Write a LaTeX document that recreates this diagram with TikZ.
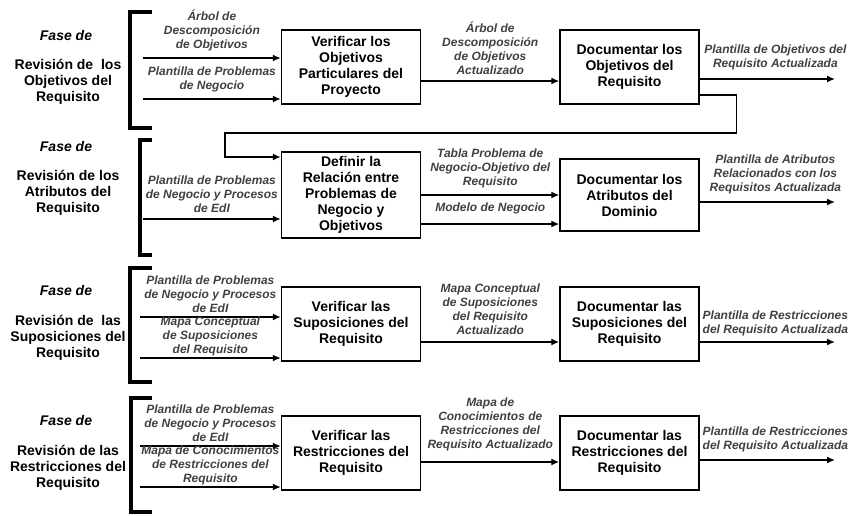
\documentclass[tikz,border=0pt]{standalone}
\usepackage{fontspec}
\setmainfont{Liberation Sans}
\usetikzlibrary{arrows.meta, positioning}
\definecolor{labelgray}{HTML}{404040}

\begin{document}
\begin{tikzpicture}[
  x=1pt, y=-1pt,
  box/.style={draw, line width=1.5pt, align=center, minimum width=139pt, minimum height=74pt, font=\fontsize{14}{16}\selectfont\bfseries},
  fase/.style={align=center, font=\fontsize{14}{16}\selectfont\bfseries\itshape},
  revision/.style={align=center, font=\fontsize{14}{16}\selectfont\bfseries},
  lbl/.style={align=center, inner sep=2pt, text=labelgray, font=\fontsize{12}{14}\selectfont\bfseries\itshape, above=4pt},
  arrow/.style={-{Latex[length=8pt, width=7pt]}, line width=1.4pt},
  bracket/.style={line width=4pt}
]
  \useasboundingbox (0,0) rectangle (856,515);

  % fases
  \node[fase] (fase1) at (66,35) {Fase de};
  \node[revision] (rev1) at (68,82) {Revisión de~ los\\Objetivos del\\Requisito};
  \node[fase] (fase2) at (66,146) {Fase de};
  \node[revision] (rev2) at (68,193) {Revisión de los\\Atributos del\\Requisito};
  \node[fase] (fase3) at (66,290) {Fase de};
  \node[revision] (rev3) at (68,338) {Revisión de~ las\\Suposiciones del\\Requisito};
  \node[fase] (fase4) at (66,420) {Fase de};
  \node[revision] (rev4) at (68,468) {Revisión de las\\Restricciones del\\Requisito};

  \draw[bracket] (152,12) -| (130,128) -- (152,128);
  \draw[bracket] (152,140) -| (140,255) -- (152,255);
  \draw[bracket] (152,268) -| (130,382) -- (152,382);
  \draw[bracket] (152,398) -| (131,512) -- (152,512);

  % actividades
  \node[box] (b1) at (351,67) {Verificar los\\Objetivos\\Particulares del\\Proyecto};
  \node[box, right=138pt of b1] (b2) {Documentar los\\Objetivos del\\Requisito};
  \node[box, minimum height=86pt] (b3) at (351,195) {Definir la\\Relación entre\\Problemas de\\Negocio y\\Objetivos};
  \node[box, minimum height=72pt, right=138pt of b3] (b4) {Documentar los\\Atributos del\\Dominio};
  \node[box] (b5) at (351,324) {Verificar las\\Suposiciones del\\Requisito};
  \node[box, right=138pt of b5] (b6) {Documentar las\\Suposiciones del\\Requisito};
  \node[box] (b7) at (351,453) {Verificar las\\Restricciones del\\Requisito};
  \node[box, right=138pt of b7] (b8) {Documentar las\\Restricciones del\\Requisito};

  \coordinate (in1a) at (143,58);
  \coordinate (in1b) at (143,99);
  \coordinate (in3) at (143,219);
  \coordinate (in5a) at (140,317);
  \coordinate (in5b) at (140,358);
  \coordinate (in7a) at (140,446);
  \coordinate (in7b) at (140,487);
  \coordinate (rend) at (835,0);
  \coordinate (bend) at (225,133);

  % fila 1
  \draw[arrow] (in1a) -- (in1a -| b1.west) node[lbl, midway] {Árbol de\\Descomposición\\de Objetivos};
  \draw[arrow] (in1b) -- (in1b -| b1.west) node[lbl, midway] {Plantilla de Problemas\\de Negocio};
  \draw[arrow] ([yshift=-14pt]b1.east) coordinate (o1) -- (o1 -| b2.west) node[lbl, midway] {Árbol de\\Descomposición\\de Objetivos\\Actualizado};
  \draw[arrow] ([yshift=-12pt]b2.east) coordinate (o2) -- (o2 -| rend) node[lbl, midway, above=6pt, xshift=8pt] {Plantilla de Objetivos del\\Requisito Actualizada};
  \draw[arrow] ([yshift=-28pt]b2.east) -- ++(37,0) |- (bend) |- ([yshift=38pt]b3.west);

  % fila 2
  \draw[arrow] (in3) -- (in3 -| b3.west) node[lbl, midway] {Plantilla de Problemas\\de Negocio y Procesos\\de EdI};
  \draw[arrow] (b3.east) -- (b4.west) node[lbl, midway] {Tabla Problema de\\Negocio-Objetivo del\\Requisito};
  \draw[arrow] ([yshift=-29pt]b3.east) coordinate (o3) -- (o3 -| b4.west) node[lbl, midway, above=7pt] {Modelo de Negocio};
  \draw[arrow] ([yshift=-7pt]b4.east) coordinate (o4) -- (o4 -| rend) node[lbl, midway, above=5pt, xshift=8pt] {Plantilla de Atributos\\Relacionados con los\\Requisitos Actualizada};

  % fila 3
  \draw[arrow] (in5a) -- (in5a -| b5.west) node[lbl, midway, above=2pt] {Plantilla de Problemas\\de Negocio y Procesos\\de EdI};
  \draw[arrow] (in5b) -- (in5b -| b5.west) node[lbl, midway, above=-1pt] {Mapa Conceptual\\de Suposiciones\\del Requisito};
  \draw[arrow] ([yshift=-18pt]b5.east) coordinate (o5) -- (o5 -| b6.west) node[lbl, midway, above=5pt] {Mapa Conceptual\\de Suposiciones\\del Requisito\\Actualizado};
  \draw[arrow] ([yshift=-18pt]b6.east) coordinate (o6) -- (o6 -| rend) node[lbl, midway, above=3pt, xshift=8pt] {Plantilla de Restricciones\\del Requisito Actualizada};

  % fila 4
  \draw[arrow] (in7a) -- (in7a -| b7.west) node[lbl, midway, above=2pt] {Plantilla de Problemas\\de Negocio y Procesos\\de EdI};
  \draw[arrow] (in7b) -- (in7b -| b7.west) node[lbl, midway, above=-1pt] {Mapa de Conocimientos\\de Restricciones del\\Requisito};
  \draw[arrow] ([yshift=-9pt]b7.east) coordinate (o7) -- (o7 -| b8.west) node[lbl, midway, above=8pt] {Mapa de\\Conocimientos de\\Restricciones del\\Requisito Actualizado};
  \draw[arrow] ([yshift=-7pt]b8.east) coordinate (o8) -- (o8 -| rend) node[lbl, midway, above=5pt, xshift=8pt] {Plantilla de Restricciones\\del Requisito Actualizada};
\end{tikzpicture}
\end{document}
